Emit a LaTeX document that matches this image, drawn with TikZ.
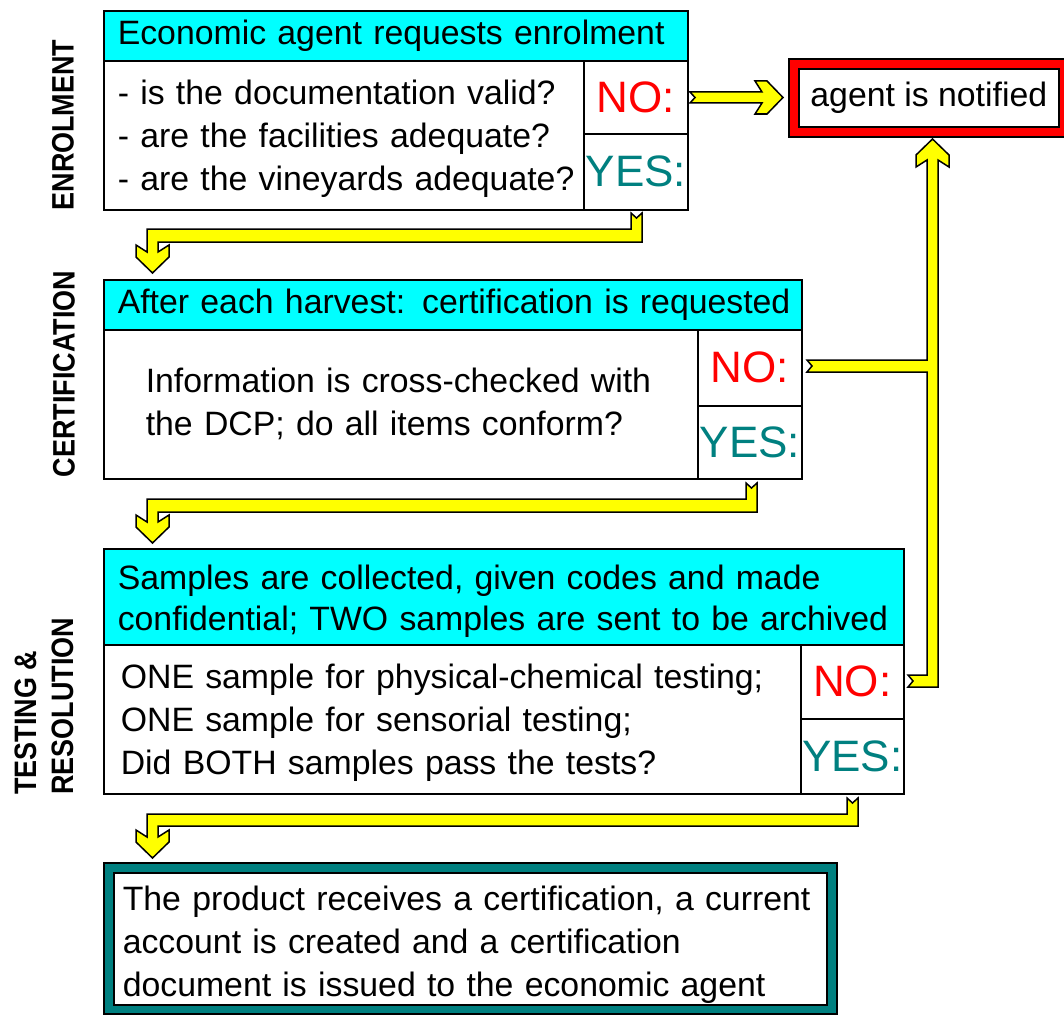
\documentclass[tikz,border=0pt]{standalone}
\usepackage{fontspec}
\usepackage{graphicx}
\setmainfont{Liberation Sans}
\newcommand\fsmain{\fontsize{33.8pt}{43pt}\selectfont}
\newcommand\fshdr{\fontsize{33.8pt}{41pt}\selectfont}
\newcommand\fsbig{\fontsize{44pt}{50pt}\selectfont}
\newcommand\fsside{\fontsize{31pt}{37pt}\selectfont\bfseries}
\newcommand\tstrut[1]{\rule{0pt}{#1pt}}
\newcommand\sq[1]{\scalebox{0.87}[1]{#1}}
\definecolor{cyanc}{RGB}{0,255,255}
\definecolor{tealc}{RGB}{0,128,128}
\definecolor{yellowc}{RGB}{255,255,0}
\definecolor{redc}{RGB}{255,0,0}
\begin{document}
\begin{tikzpicture}[x=1pt,y=-1pt,
  bx/.style={draw=black, line width=1.6pt, inner sep=0pt, anchor=north west},
  hdr/.style={bx, fill=cyanc, font=\fsmain, align=left, inner xsep=14pt},
  wbx/.style={bx, fill=white, font=\fsmain, align=left},
  nolab/.style={bx, fill=white, font=\fsbig, text=redc},
  yeslab/.style={bx, fill=white, font=\fsbig, text=tealc},
  side/.style={font=\fsside, rotate=90, inner sep=0pt},
  arw/.style={fill=yellowc, draw=black, line width=1.5pt, line join=miter}]
\useasboundingbox (0,0) rectangle (1064,1014);
\clip (0,0) rectangle (1064,1014);
\fill[white] (0,0) rectangle (1064,1014);

% side labels
\node[side] (lab1) at (63,125) {\sq{ENROLMENT}};
\node[side] (lab2) at (64,374) {\sq{CERTIFICATION}};
\node[side, align=left, anchor=west] (lab3) at (44,795) {\sq{TESTING \&}\\\sq{RESOLUTION}};

% box 1
\node[hdr, minimum width=584pt, minimum height=50pt, text width=556pt] (h1) at (103,10) {\mbox{Economic agent requests enrolment}};
\node[wbx, minimum width=480pt, minimum height=149pt, text width=452pt, inner xsep=14pt] (b1) at (103,60)
  {\mbox{\tstrut{31}- is the documentation valid?}\\\mbox{- are the facilities adequate?}\\\mbox{- are the vineyards adequate?}};
\node[nolab, minimum width=104pt, minimum height=73pt] (n1) at (583,60) {NO:};
\node[yeslab, minimum width=104pt, minimum height=76pt] (y1) at (583,133) {YES:};

% box 2
\node[hdr, minimum width=698pt, minimum height=50pt, text width=670pt] (h2) at (103,279) {\mbox{After each harvest: certification is requested}};
\node[wbx, minimum width=594pt, minimum height=149pt, text width=510pt, inner xsep=42pt] (b2) at (103,329)
  {\mbox{Information is cross-checked with}\\\mbox{the DCP; do all items conform?}};
\node[nolab, minimum width=104pt, minimum height=76pt] (n2) at (697,329) {NO:};
\node[yeslab, minimum width=104pt, minimum height=73pt] (y2) at (697,405) {YES:};

% box 3
\node[hdr, font=\fshdr, minimum width=800pt, minimum height=96pt, text width=772pt] (h3) at (103,548)
  {\mbox{\tstrut{33}Samples are collected, given codes and made}\\\mbox{confidential; TWO samples are sent to be archived}};
\node[wbx, minimum width=697pt, minimum height=149pt, text width=663pt, inner xsep=17pt] (b3) at (103,644)
  {\mbox{\tstrut{32}ONE sample for physical-chemical testing;}\\\mbox{ONE sample for sensorial testing;}\\\mbox{Did BOTH samples pass the tests?}};
\node[nolab, minimum width=103pt, minimum height=74pt] (n3) at (800,644) {NO:};
\node[yeslab, minimum width=103pt, minimum height=75pt] (y3) at (800,718) {YES:};

% final box
\node[bx, fill=tealc, minimum width=733pt, minimum height=151pt] (o4) at (103,862) {};
\node[wbx, minimum width=713pt, minimum height=132pt, text width=695pt, inner xsep=9pt] (p4) at (113,872)
  {\mbox{\tstrut{37}The product receives a certification, a current}\\\mbox{account is created and a certification}\\\mbox{document is issued to the economic agent}};

% agent notified box
\node[bx, fill=redc, minimum width=280pt, minimum height=78pt] (agframe) at (788,58) {};
\node[bx, fill=white, font=\fsmain, minimum width=260pt, minimum height=58pt] (ag) at (798,68) {agent is notified};

% arrows
\draw[arw] (690,92) -- (762,92) -- (755,81) -- (767,81) -- (783,97.5) -- (767,114) -- (755,114) -- (762,103) -- (690,103) -- (695,97.5) -- cycle;

\draw[arw] (631,213) -- (636.5,218) -- (642,213) -- (642,242) -- (158,242) -- (158,252) -- (169,245) -- (169,257) -- (152.5,273) -- (136,257) -- (136,245) -- (147,252) -- (147,229) -- (631,229) -- cycle;

\draw[arw] (746,483) -- (751.5,488) -- (757,483) -- (757,512) -- (158,512) -- (158,522) -- (169,515) -- (169,527) -- (152.5,543) -- (136,527) -- (136,515) -- (147,522) -- (147,499) -- (746,499) -- cycle;

\draw[arw] (847,798) -- (852.5,803) -- (858,798) -- (858,826) -- (158,826) -- (158,837) -- (169,830) -- (169,842) -- (152.5,858) -- (136,842) -- (136,830) -- (147,837) -- (147,814) -- (847,814) -- cycle;

\draw[arw] (932.5,139) -- (949,155) -- (949,167) -- (938,160) -- (938,687) -- (908,687) -- (913,681) -- (908,675) -- (927,675) -- (927,372) -- (807,372) -- (812,366) -- (807,360) -- (927,360) -- (927,160) -- (916,167) -- (916,155) -- cycle;
\end{tikzpicture}
\end{document}
